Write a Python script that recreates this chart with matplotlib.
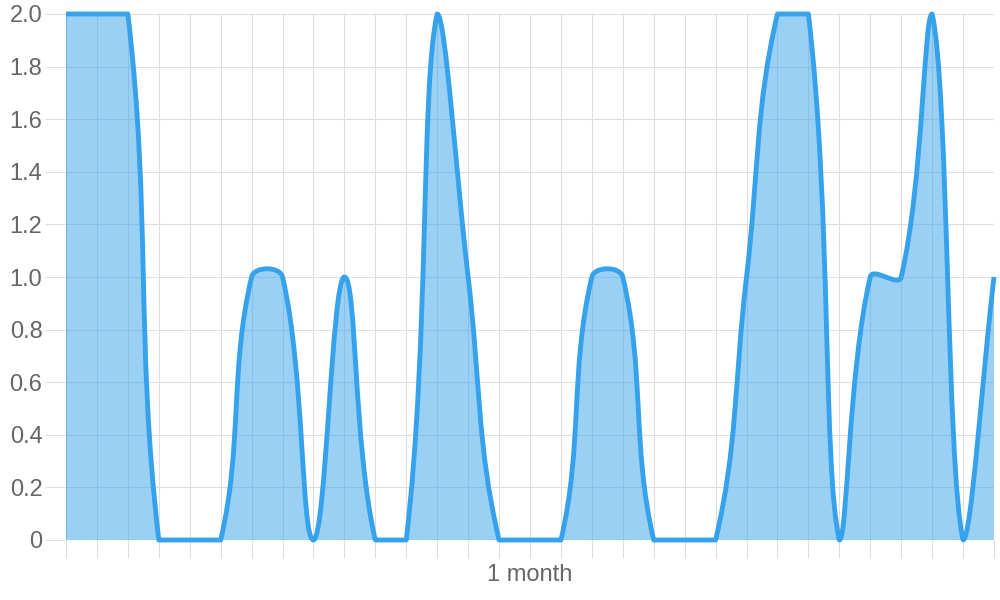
import numpy as np
import matplotlib
matplotlib.use("Agg")
import matplotlib.pyplot as plt
from matplotlib.path import Path
from matplotlib.patches import PathPatch

# one value per day, 31 days
days = list(range(31))
values = [2, 2, 2, 0, 0, 0, 1, 1, 0, 1, 0, 0, 2, 1, 0, 0,
          0, 1, 1, 0, 0, 0, 1, 2, 2, 0, 1, 1, 2, 0, 1]
yticks = [0, 0.2, 0.4, 0.6, 0.8, 1.0, 1.2, 1.4, 1.6, 1.8, 2.0]
ytick_labels = ["0", "0.2", "0.4", "0.6", "0.8", "1.0", "1.2", "1.4", "1.6", "1.8", "2.0"]
xlabel = "1 month"

line_col = "#36a2eb"
fill_col = (54/255, 162/255, 235/255, 0.5)
grid_col = "#dfdfdf"
zero_col = "#bfbfbf"
text_col = "#666666"

plt.rcParams['font.family'] = ['Liberation Sans', 'DejaVu Sans']

fig = plt.figure(figsize=(10, 6), dpi=100)
L, R, B, T = 66, 994, 540, 14
ax = fig.add_axes([L/1000, 1 - B/600, (R-L)/1000, (B-T)/600])
xmin, xmax, ymin, ymax = days[0], days[-1], 0, 2
ax.set_xlim(xmin, xmax)
ax.set_ylim(ymin, ymax)

# spline like chart.js (tension 0.4, computed in pixels, capped to area)
sx = (R - L) / (xmax - xmin)
sy = (B - T) / (ymax - ymin)
px = np.array(days, float) * sx
py = np.array(values, float) * sy
W, H = (R - L), (B - T)
tension = 0.4
cps = []
n = len(px)
for i in range(n):
    p0 = (px[max(i-1, 0)], py[max(i-1, 0)])
    p1 = (px[i], py[i])
    p2 = (px[min(i+1, n-1)], py[min(i+1, n-1)])
    d01 = np.hypot(p1[0]-p0[0], p1[1]-p0[1])
    d12 = np.hypot(p2[0]-p1[0], p2[1]-p1[1])
    s01 = d01/(d01+d12) if d01+d12 > 0 else 0
    s12 = d12/(d01+d12) if d01+d12 > 0 else 0
    fa, fb = tension*s01, tension*s12
    prev = [p1[0]-fa*(p2[0]-p0[0]), p1[1]-fa*(p2[1]-p0[1])]
    nxt = [p1[0]+fb*(p2[0]-p0[0]), p1[1]+fb*(p2[1]-p0[1])]
    for c in (prev, nxt):
        c[0] = min(max(c[0], 0), W)
        c[1] = min(max(c[1], 0), H)
    cps.append((prev, nxt))

verts = [(px[0]/sx, py[0]/sy)]
codes = [Path.MOVETO]
for i in range(1, n):
    a = cps[i-1][1]
    b = cps[i][0]
    verts += [(a[0]/sx, a[1]/sy), (b[0]/sx, b[1]/sy), (px[i]/sx, py[i]/sy)]
    codes += [Path.CURVE4]*3

fverts = verts + [(days[-1], 0), (days[0], 0), (days[0], values[0])]
fcodes = codes + [Path.LINETO, Path.LINETO, Path.CLOSEPOLY]
ax.add_patch(PathPatch(Path(fverts, fcodes), facecolor=fill_col, edgecolor='none', zorder=2))
ax.add_patch(PathPatch(Path(verts, codes), facecolor='none', edgecolor=line_col,
                       lw=3.5, joinstyle='round', capstyle='butt', zorder=3, clip_on=False))

for s in ax.spines.values():
    s.set_visible(False)

ax.set_xticks(days)
ax.set_xticklabels([])
ax.set_yticks(yticks)
ax.set_yticklabels(ytick_labels)
ax.grid(True, color=grid_col, lw=0.8, alpha=1, zorder=0)
ax.set_axisbelow(True)
ax.tick_params(axis='x', length=13, width=0.8, color=grid_col)
ax.tick_params(axis='y', length=15, width=0.8, color=grid_col, pad=2,
               labelsize=17, labelcolor=text_col)
ax.xaxis.get_major_ticks()[0].tick1line.set_color(zero_col)
ax.yaxis.get_major_ticks()[0].tick1line.set_color(zero_col)
ax.axhline(0, color=zero_col, lw=0.8, zorder=1)
ax.axvline(0, color=zero_col, lw=0.8, zorder=1)

ax.set_xlabel(xlabel, fontsize=17, color=text_col, labelpad=1)

fig.savefig("out.png", dpi=100)
